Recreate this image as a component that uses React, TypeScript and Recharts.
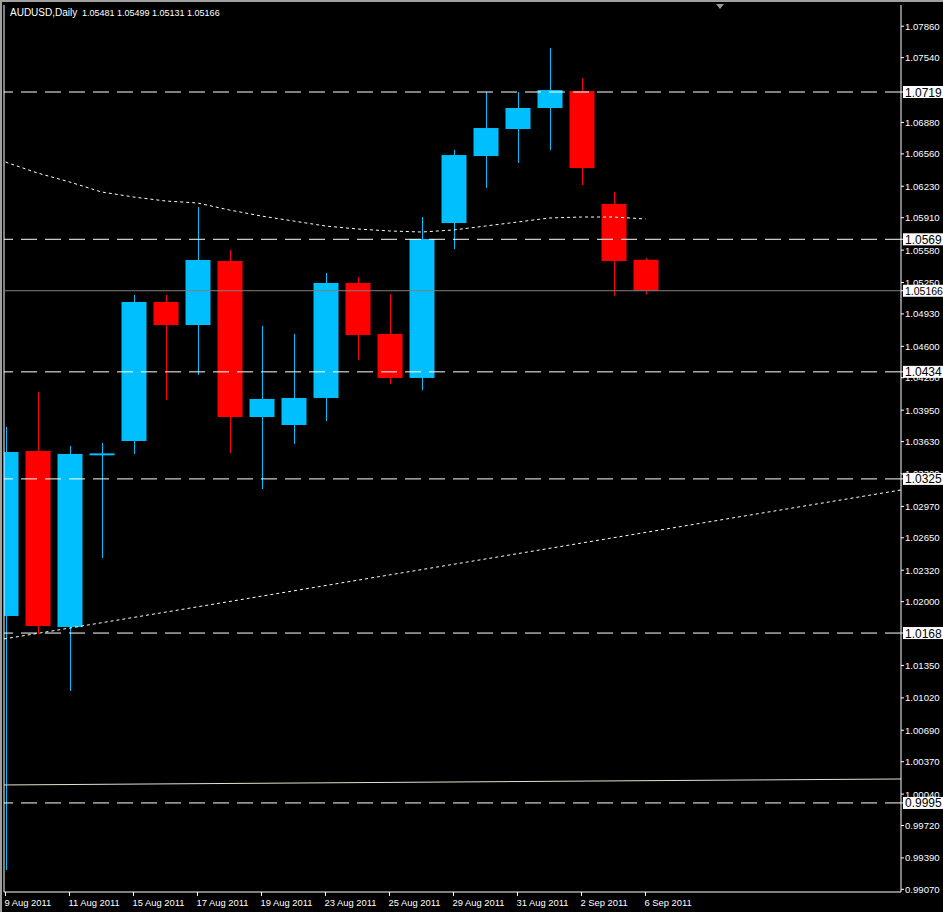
import React from 'react';
import { ComposedChart, Bar, Line, XAxis, YAxis, ReferenceLine, Customized } from 'recharts';

const dates = ['9 Aug 2011', '10 Aug 2011', '11 Aug 2011', '12 Aug 2011', '15 Aug 2011', '16 Aug 2011', '17 Aug 2011', '18 Aug 2011', '19 Aug 2011', '22 Aug 2011', '23 Aug 2011', '24 Aug 2011', '25 Aug 2011', '26 Aug 2011', '29 Aug 2011', '30 Aug 2011', '31 Aug 2011', '1 Sep 2011', '2 Sep 2011', '5 Sep 2011', '6 Sep 2011'];
const opens = [1.01854, 1.03534, 1.01742, 1.0349, 1.03636, 1.05052, 1.04817, 1.05469, 1.0388, 1.03799, 1.04074, 1.05245, 1.04726, 1.04278, 1.05856, 1.06538, 1.06813, 1.07027, 1.072, 1.0605, 1.05481];
const highs = [1.03779, 1.04135, 1.03585, 1.03616, 1.05123, 1.05123, 1.06019, 1.05581, 1.04807, 1.04726, 1.05347, 1.05306, 1.05133, 1.05917, 1.06599, 1.0719, 1.0719, 1.07638, 1.07333, 1.06172, 1.05499];
const lows = [0.99267, 1.01671, 1.0109, 1.02445, 1.03504, 1.04054, 1.04308, 1.03514, 1.03147, 1.03606, 1.0384, 1.04461, 1.04217, 1.04155, 1.05591, 1.06212, 1.06467, 1.06599, 1.06243, 1.05113, 1.05131];
const closes = [1.03524, 1.01752, 1.03504, 1.0351, 1.05052, 1.04817, 1.05479, 1.0388, 1.04064, 1.04074, 1.05245, 1.04716, 1.04278, 1.05693, 1.06548, 1.06823, 1.07027, 1.0721, 1.06416, 1.05469, 1.05166];
const maValues = [1.06477, 1.06365, 1.06274, 1.06172, 1.06121, 1.0608, 1.0606, 1.05988, 1.05927, 1.05876, 1.05825, 1.05795, 1.05775, 1.05764, 1.05785, 1.05825, 1.05866, 1.05907, 1.05917, 1.05917, 1.05897];

const levels = [1.0719, 1.0569, 1.0434, 1.0325, 1.0168, 0.9995];
const bid = 1.05166;
const priceTicks = [1.0786, 1.0754, 1.0688, 1.0656, 1.0623, 1.0591, 1.0558, 1.0525, 1.0493, 1.046, 1.0428, 1.0395, 1.0363, 1.033, 1.0297, 1.0265, 1.0232, 1.02, 1.0135, 1.0102, 1.0069, 1.0037, 1.0004, 0.9972, 0.9939, 0.9907];
const dateTicks = [0, 2, 4, 6, 8, 10, 12, 14, 16, 18, 20];
const xDomain: [number, number] = [-0.0469, 27.984];
const yDomain: [number, number] = [0.99043, 1.08076];
const trendLine = [{ i: -0.0469, v: 1.0162 }, { i: 27.984, v: 1.03137 }];
const lowerLine = [{ i: -0.0469, v: 1.00133 }, { i: 27.984, v: 1.00194 }];
const symbolLabel = 'AUDUSD,Daily';
const ohlcLabel = '1.05481 1.05499 1.05131 1.05166';

const BULL = '#00BFFF';
const BEAR = '#FF0000';
const FONT = '"Liberation Sans", Arial, sans-serif';

const data = dates.map((d, i) => ({
  i,
  date: d,
  open: opens[i],
  high: highs[i],
  low: lows[i],
  close: closes[i],
  range: [lows[i], highs[i]],
  ma: maValues[i],
}));

const Candle = (props: any) => {
  let { x, y, width, height, payload } = props;
  if (payload == null || x == null || y == null) return null;
  if (height < 0) {
    y = y + height;
    height = -height;
  }
  const { open, close, high, low } = payload;
  const cx = x + width / 2;
  const k = height / (high - low);
  const yO = y + (high - open) * k;
  const yC = y + (high - close) * k;
  const color = close >= open ? BULL : BEAR;
  const top = Math.min(yO, yC);
  const bh = Math.max(Math.abs(yO - yC), 1);
  return (
    <g>
      <rect x={Math.floor(cx)} y={y} width={1} height={height} fill={color} />
      <rect x={cx - 12.5} y={top} width={25} height={bh} fill={color} />
    </g>
  );
};

const YTick = (props: any) => {
  const { x, y, payload } = props;
  const v = payload.value;
  const isLevel = levels.indexOf(v) >= 0;
  if (isLevel || v === bid) {
    const label = isLevel ? v.toFixed(4) : v.toFixed(5);
    return (
      <g>
        <rect x={x - 2} y={y - 6} width={42} height={12} fill="#ffffff" />
        <text x={x} y={y + 4.5} fill="#000000" fontSize={isLevel ? 12 : 10.5} fontFamily={FONT}>
          {label}
        </text>
      </g>
    );
  }
  return (
    <text x={x} y={y + 3.5} fill="#ffffff" fontSize={9.6} fontFamily={FONT}>
      {v.toFixed(5)}
    </text>
  );
};

const XTick = (props: any) => {
  const { x, y, payload } = props;
  return (
    <text x={x - 1} y={y + 8} fill="#ffffff" fontSize={9.4} fontFamily={FONT}>
      {dates[payload.value]}
    </text>
  );
};

const Decor = () => (
  <g>
    <rect x={0} y={0} width={943} height={2} fill="#a0a0a0" />
    <rect x={0} y={0} width={2} height={912} fill="#a0a0a0" />
    <text x={10} y={16} fill="#ffffff" fontSize={10} fontFamily={FONT}>
      {symbolLabel}
    </text>
    <text x={82} y={16} fill="#ffffff" fontSize={9} fontFamily={FONT}>
      {ohlcLabel}
    </text>
    <polygon points="716,4 724,4 720,9" fill="#9a9a9a" />
  </g>
);

export default function App() {
  const yTicks = [...priceTicks, bid, ...levels];
  return (
    <div style={{ position: 'absolute', left: 0, top: 0, width: 943, height: 912, background: '#000000' }}>
      <ComposedChart
        width={943}
        height={912}
        data={data}
        margin={{ top: 5, right: 0, bottom: 0, left: 4 }}
        style={{ background: '#000000' }}
      >
        <XAxis
          dataKey="i"
          type="number"
          domain={xDomain}
          allowDataOverflow
          ticks={dateTicks}
          interval={0}
          height={20}
          tickSize={4}
          tickMargin={2}
          stroke="#ffffff"
          axisLine={{ stroke: '#ffffff' }}
          tickLine={{ stroke: '#ffffff' }}
          tick={<XTick />}
        />
        <XAxis
          xAxisId="top"
          orientation="top"
          dataKey="i"
          type="number"
          domain={xDomain}
          allowDataOverflow
          height={0}
          tick={false}
          tickLine={false}
          axisLine={{ stroke: '#ffffff' }}
        />
        <YAxis
          orientation="right"
          type="number"
          domain={yDomain}
          allowDataOverflow
          ticks={yTicks}
          interval={0}
          width={42}
          tickSize={3}
          tickMargin={1}
          axisLine={{ stroke: '#ffffff' }}
          tickLine={{ stroke: '#ffffff' }}
          tick={<YTick />}
        />
        <ReferenceLine x={xDomain[0]} stroke="#ffffff" ifOverflow="visible" />
        {levels.map((lv) => (
          <ReferenceLine key={lv} y={lv} stroke="#ffffff" strokeDasharray="16 8" ifOverflow="hidden" />
        ))}
        <ReferenceLine y={bid} stroke="#808080" ifOverflow="hidden" />
        <ReferenceLine
          segment={[{ x: trendLine[0].i, y: trendLine[0].v }, { x: trendLine[1].i, y: trendLine[1].v }]}
          stroke="#ffffff"
          strokeDasharray="3 3"
          ifOverflow="hidden"
        />
        <ReferenceLine
          segment={[{ x: lowerLine[0].i, y: lowerLine[0].v }, { x: lowerLine[1].i, y: lowerLine[1].v }]}
          stroke="#e8e0cc"
          ifOverflow="hidden"
        />
        <Line
          dataKey="ma"
          type="linear"
          stroke="#ffffff"
          strokeDasharray="3 3"
          dot={false}
          activeDot={false}
          isAnimationActive={false}
        />
        <Bar dataKey="range" barSize={25} shape={<Candle />} isAnimationActive={false} />
        <Customized component={Decor} />
      </ComposedChart>
    </div>
  );
}
